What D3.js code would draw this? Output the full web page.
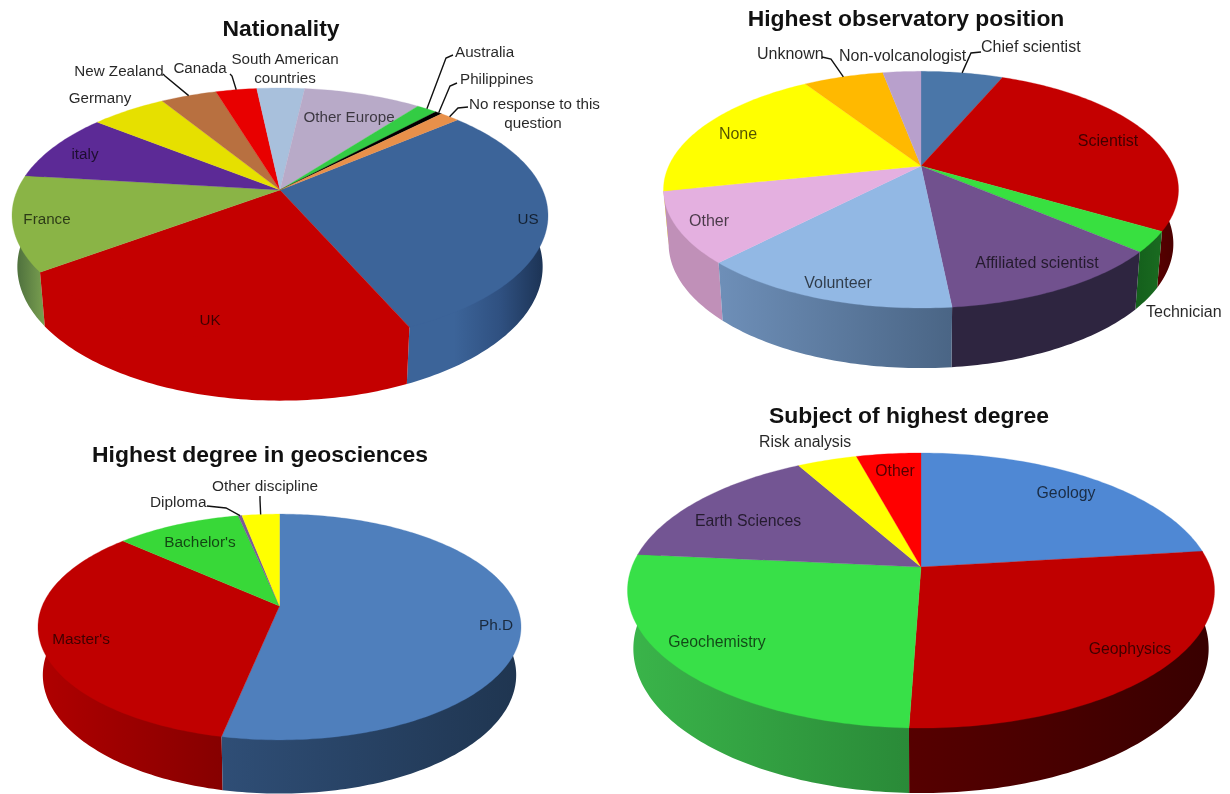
<!DOCTYPE html>
<html>
<head>
<meta charset="utf-8">
<script src="https://cdn.jsdelivr.net/npm/d3@7"></script>
<style>
  body { margin: 0; background: #fff; }
  text { font-family: "Liberation Sans", Arial, sans-serif; }
  svg { filter: blur(0.45px); }
</style>
</head>
<body>
<div id="chart"></div>
<script>
// values are percent shares
var natNames = ["US", "UK", "France", "Italy", "Germany", "New Zealand", "Canada", "South American countries", "Other Europe", "Australia", "Philippines", "No response to this question"];
var natValues = [29.6, 21.5, 12, 8.8, 5.5, 4.1, 3, 3.5, 8.6, 1.5, 0.5, 1.4];
var natColors = ["#3c6499", "#c40000", "#8ab446", "#5c2a96", "#e6e000", "#b87040", "#e80000", "#a8c0dc", "#b8aac8", "#33cc44", "#000000", "#e8904a"];

var posNames = ["Chief scientist", "Scientist", "Technician", "Affiliated scientist", "Volunteer", "Other", "None", "Unknown", "Non-volcanologist"];
var posValues = [6.25, 27.4, 2.8, 12, 13.6, 9.6, 19.4, 6.1, 2.9];
var posColors = ["#4a76a8", "#c40000", "#38e040", "#71518e", "#92b8e4", "#e4b0e0", "#ffff00", "#ffb900", "#b8a0cc"];

var degNames = ["Ph.D", "Master's", "Bachelor's", "Diploma", "Other discipline"];
var degValues = [53.2, 33.5, 10, 0.3, 3];
var degColors = ["#4f7fbc", "#c00000", "#38d838", "#7a5a9a", "#ffff00"];

var subNames = ["Geology", "Geophysics", "Geochemistry", "Earth Sciences", "Risk analysis", "Other"];
var subValues = [23.1, 27.5, 26, 15.4, 3.9, 4.2];
var subColors = ["#4f88d4", "#c00000", "#38e048", "#735593", "#ffff00", "#ff0000"];

// wall colours, evenly spaced from the left to the right end of each slice's side
var natWalls = {"US": ["#3c6499", "#3c6499", "#2f5080", "#1a3050"], "UK": ["#c40000", "#c40000"], "France": ["#47683a", "#7aa050"]};
var posWalls = {"Scientist": ["#600000", "#480000"], "Technician": ["#145f1c", "#1a6b20"], "Affiliated scientist": ["#2e2540", "#2e2540"], "Volunteer": ["#6e8fb8", "#4a6585"], "Other": ["#c090b8", "#c090b8"]};
var degWalls = {"Ph.D": ["#2f4e76", "#1f3550"], "Master's": ["#b00000", "#860000"]};
var subWalls = {"Geophysics": ["#560000", "#380000"], "Geochemistry": ["#3ab54a", "#2a8a38"]};

// label layout: [name, x, y, anchor, inside?]
var natLabels = [
  ["US", 528, 219, "middle", 1], ["UK", 210, 320, "middle", 1], ["France", 47, 219, "middle", 1],
  ["italy", 85, 154, "middle", 1], ["Germany", 100, 98, "middle", 0], ["New Zealand", 119, 71, "middle", 0],
  ["Canada", 200, 68, "middle", 0], ["South American", 285, 59, "middle", 0], ["countries", 285, 78, "middle", 0],
  ["Other Europe", 349, 117, "middle", 1], ["Australia", 455, 52, "start", 0], ["Philippines", 460, 79, "start", 0],
  ["No response to this", 469, 104, "start", 0], ["question", 533, 123, "middle", 0]
];
var posLabels = [
  ["Chief scientist", 981, 46, "start", 0], ["Scientist", 1108, 140, "middle", 1], ["Technician", 1146, 311, "start", 0],
  ["Affiliated scientist", 1037, 262, "middle", 1], ["Volunteer", 838, 282, "middle", 1], ["Other", 709, 220, "middle", 1],
  ["None", 738, 133, "middle", 1], ["Unknown", 757, 53, "start", 0], ["Non-volcanologist", 839, 55, "start", 0]
];
var degLabels = [
  ["Ph.D", 496, 625, "middle", 1], ["Master's", 81, 639, "middle", 1], ["Bachelor's", 200, 542, "middle", 1],
  ["Diploma", 150, 502, "start", 0], ["Other discipline", 212, 486, "start", 0]
];
var subLabels = [
  ["Geology", 1066, 492, "middle", 1], ["Geophysics", 1130, 648, "middle", 1], ["Geochemistry", 717, 641, "middle", 1],
  ["Earth Sciences", 748, 520, "middle", 1], ["Risk analysis", 759, 441, "start", 0], ["Other", 895, 470, "middle", 1]
];

// leader lines: slice name, label end, elbow
var natLeaders = [
  ["Australia", [453, 55], [446, 58]], ["Philippines", [457, 83], [450, 86]],
  ["No response to this question", [468, 107], [458, 108]],
  ["New Zealand", [163, 74], [165, 76]], ["Canada", [230, 74], [232, 76]]
];
var posLeaders = [["Chief scientist", [981, 52], [971, 53]], ["Unknown", [822, 57], [831, 59]]];
var degLeaders = [["Diploma", [207, 506], [226, 508]], ["Other discipline", [260, 496], [260, 500]]];

var width = 1230, height = 794;

var svg = d3.select("#chart").append("svg")
  .attr("width", width)
  .attr("height", height)
  .style("display", "block");
var defs = svg.append("defs");

var lineGen = d3.line();
var gradId = 0;

// ax/ay: apex position, R/S/k: perspective disc, d/sx/sy: how the bottom ring sits under the top
function drawPie(p) {
  var g = svg.append("g");

  function project(a, r) {
    var u = Math.sin(a) * r, v = -Math.cos(a) * r;
    var w = 1 - p.k * v;
    return [p.ax + p.R * u / w, p.ay + p.S * v / w];
  }
  function lower(pt) {
    return [p.ax + (pt[0] - p.ax) * p.sx, p.ay + (pt[1] - p.ay) * p.sy + p.d];
  }

  var start = p.start * Math.PI / 180;
  var arcs = d3.pie().sort(null).startAngle(start).endAngle(start + 2 * Math.PI)(p.values);
  var step = Math.PI / 180;

  function sample(d) {
    var n = Math.max(2, Math.ceil((d.endAngle - d.startAngle) / step));
    return d3.range(n + 1).map(function(i) {
      return d.startAngle + (d.endAngle - d.startAngle) * i / n;
    });
  }

  // side walls first, only the part facing us, back ones painted before front ones
  var walls = [];
  arcs.forEach(function(d, i) {
    var angles = sample(d).filter(function(a) { return Math.cos(a) < 0.3; });
    if (angles.length >= 2) walls.push({i: i, angles: angles, depth: d3.mean(angles, function(a) { return -Math.cos(a); })});
  });
  walls.sort(function(a, b) { return a.depth - b.depth; });

  walls.forEach(function(w) {
    var i = w.i, last = w.angles.length - 1;
    var rim = w.angles.map(function(a) { return project(a, 1); });
    var bot = rim.map(lower).reverse();
    // tuck the upper edge under the top so no seam shows, the two ends stay on the rim
    var upper = w.angles.map(function(a, j) { return project(a, (j === 0 || j === last) ? 1 : 0.97); });
    var pts = upper.concat(bot);
    var wall = p.walls[p.names[i]] || [p.colors[i], p.colors[i]];
    var xs = d3.extent(rim.concat(bot), function(q) { return q[0]; });
    var id = "wall" + (gradId++);
    var grad = defs.append("linearGradient").attr("id", id)
      .attr("gradientUnits", "userSpaceOnUse")
      .attr("x1", xs[0]).attr("x2", xs[1]).attr("y1", 0).attr("y2", 0);
    wall.forEach(function(c, j) {
      grad.append("stop").attr("offset", j / (wall.length - 1)).attr("stop-color", c);
    });
    g.append("path")
      .attr("d", lineGen(pts) + "Z")
      .attr("fill", "url(#" + id + ")");
  });

  // top of the pie
  arcs.forEach(function(d, i) {
    var pts = sample(d).map(function(a) { return project(a, 1); });
    pts.unshift([p.ax, p.ay]);
    g.append("path")
      .attr("d", lineGen(pts) + "Z")
      .attr("fill", p.colors[i])
      .attr("stroke", p.colors[i])
      .attr("stroke-width", 0.3);
  });

  // leader lines end on the rim at the middle of their slice
  p.leaders.forEach(function(l) {
    var d = arcs[p.names.indexOf(l[0])];
    var rim = project((d.startAngle + d.endAngle) / 2, 1);
    g.append("path")
      .attr("d", lineGen([l[1], l[2], rim]))
      .attr("fill", "none")
      .attr("stroke", "#111")
      .attr("stroke-width", 1.4);
  });

  g.selectAll("text.lab")
    .data(p.labels)
    .enter()
    .append("text")
      .attr("class", "lab")
      .attr("x", function(d) { return d[1]; })
      .attr("y", function(d) { return d[2]; })
      .attr("dy", "0.35em")
      .attr("text-anchor", function(d) { return d[3]; })
      .attr("font-size", p.labelSize)
      .attr("fill", "#000")
      .attr("fill-opacity", function(d) { return d[4] ? 0.68 : 0.85; })
      .text(function(d) { return d[0]; });

  g.append("text")
    .attr("x", p.titleX)
    .attr("y", p.titleY)
    .attr("dy", "0.35em")
    .attr("text-anchor", "middle")
    .attr("font-size", 22.9)
    .attr("font-weight", "bold")
    .attr("fill", "#111")
    .text(p.title);
}

drawPie({
  title: "Nationality", titleX: 281, titleY: 28, labelSize: 15.2,
  names: natNames, values: natValues, colors: natColors, walls: natWalls, labels: natLabels, leaders: natLeaders,
  start: 49.7, ax: 280, ay: 190, R: 262.6, S: 122.4, k: 0.2, d: 50, sx: 0.98, sy: 1.05
});
drawPie({
  title: "Highest observatory position", titleX: 906, titleY: 18, labelSize: 16,
  names: posNames, values: posValues, colors: posColors, walls: posWalls, labels: posLabels, leaders: posLeaders,
  start: 0, ax: 921, ay: 166, R: 252.3, S: 113.6, k: 0.2, d: 53, sx: 0.98, sy: 1.05
});
drawPie({
  title: "Highest degree in geosciences", titleX: 260, titleY: 454, labelSize: 15.4,
  names: degNames, values: degValues, colors: degColors, walls: degWalls, labels: degLabels, leaders: degLeaders,
  start: 0, ax: 279.5, ay: 606, R: 237.3, S: 109, k: 0.186, d: 47, sx: 0.98, sy: 1.05
});
drawPie({
  title: "Subject of highest degree", titleX: 909, titleY: 415, labelSize: 15.8,
  names: subNames, values: subValues, colors: subColors, walls: subWalls, labels: subLabels, leaders: [],
  start: 0, ax: 921, ay: 567, R: 289.2, S: 133.5, k: 0.171, d: 57, sx: 0.98, sy: 1.05
});
</script>
</body>
</html>
